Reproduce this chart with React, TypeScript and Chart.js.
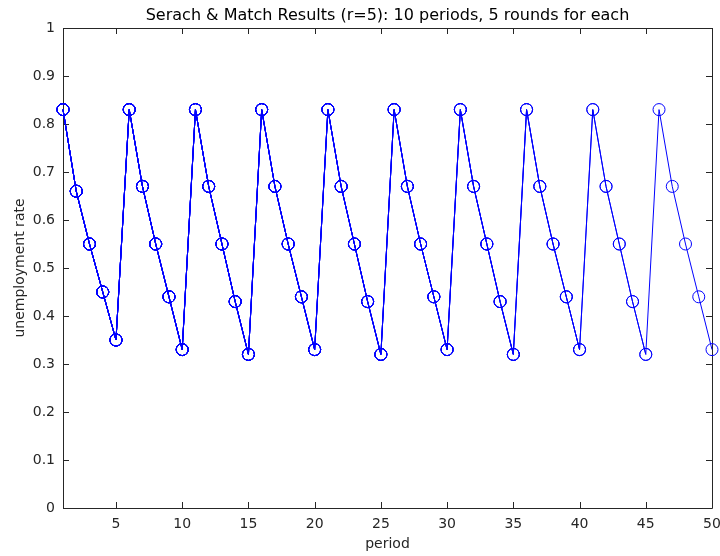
import React, { useEffect, useRef } from "react";
import { Chart, registerables } from "chart.js";

Chart.register(...registerables);

// ---- data ----
const periods = [
  1, 2, 3, 4, 5, 6, 7, 8, 9, 10,
  11, 12, 13, 14, 15, 16, 17, 18, 19, 20,
  21, 22, 23, 24, 25, 26, 27, 28, 29, 30,
  31, 32, 33, 34, 35, 36, 37, 38, 39, 40,
  41, 42, 43, 44, 45, 46, 47, 48, 49, 50,
];
const unemploymentRate = [
  0.83, 0.66, 0.55, 0.45, 0.35,
  0.83, 0.67, 0.55, 0.44, 0.33,
  0.83, 0.67, 0.55, 0.43, 0.32,
  0.83, 0.67, 0.55, 0.44, 0.33,
  0.83, 0.67, 0.55, 0.43, 0.32,
  0.83, 0.67, 0.55, 0.44, 0.33,
  0.83, 0.67, 0.55, 0.43, 0.32,
  0.83, 0.67, 0.55, 0.44, 0.33,
  0.83, 0.67, 0.55, 0.43, 0.32,
  0.83, 0.67, 0.55, 0.44, 0.33,
];
const roundsPerPeriod = 5;
const periodCount = 10;
const xTickValues = [5, 10, 15, 20, 25, 30, 35, 40, 45, 50];
const yTickValues = [0, 0.1, 0.2, 0.3, 0.4, 0.5, 0.6, 0.7, 0.8, 0.9, 1];
const yTickLabels = ["0", "0.1", "0.2", "0.3", "0.4", "0.5", "0.6", "0.7", "0.8", "0.9", "1"];
const chartTitle = "Serach & Match Results (r=5): 10 periods, 5 rounds for each";
const xLabel = "period";
const yLabel = "unemployment rate";

const AXIS_COLOR = "#262626";
const LINE_COLOR = "#0000ff";
const FONT = "'DejaVu Sans', 'Noto Sans', sans-serif";

const boxPlugin = {
  id: "matlabBox",
  beforeDatasetsDraw(chart: any) {
    const { ctx, chartArea } = chart;
    const { left, right, top, bottom } = chartArea;
    const xs = chart.scales.x;
    const ys = chart.scales.y;
    const tl = 6;
    ctx.save();
    ctx.strokeStyle = AXIS_COLOR;
    ctx.lineWidth = 1;
    ctx.beginPath();
    ctx.rect(Math.round(left) + 0.5, Math.round(top) + 0.5, Math.round(right - left), Math.round(bottom - top));
    for (const v of xTickValues) {
      const px = Math.round(xs.getPixelForValue(v)) + 0.5;
      ctx.moveTo(px, bottom);
      ctx.lineTo(px, bottom - tl);
      ctx.moveTo(px, top);
      ctx.lineTo(px, top + tl);
    }
    for (const v of yTickValues) {
      const py = Math.round(ys.getPixelForValue(v)) + 0.5;
      ctx.moveTo(left, py);
      ctx.lineTo(left + tl, py);
      ctx.moveTo(right, py);
      ctx.lineTo(right - tl, py);
    }
    ctx.stroke();
    ctx.restore();
  },
};

export default function App() {
  const canvasRef = useRef<HTMLCanvasElement | null>(null);

  useEffect(() => {
    const canvas = canvasRef.current;
    if (!canvas) return;

    // The simulation was plotted cumulatively: one overlaid line per period.
    const datasets = [];
    for (let k = 1; k <= periodCount; k++) {
      const n = k * roundsPerPeriod;
      datasets.push({
        label: "period " + k,
        data: periods.slice(0, n).map((p, i) => ({ x: p, y: unemploymentRate[i] })),
        borderColor: LINE_COLOR,
        backgroundColor: "rgba(0,0,0,0)",
        borderWidth: 1,
        pointRadius: 6,
        pointHoverRadius: 6,
        pointBorderWidth: 1,
        pointBorderColor: LINE_COLOR,
        pointBackgroundColor: "rgba(0,0,0,0)",
        pointStyle: "circle",
        tension: 0,
        fill: false,
        clip: false,
      });
    }

    const chart = new Chart(canvas, {
      type: "line",
      data: { datasets },
      plugins: [boxPlugin],
      options: {
        animation: false,
        responsive: false,
        devicePixelRatio: 1,
        layout: { padding: { left: 0, right: 0, top: 0, bottom: 0 } },
        plugins: {
          legend: { display: false },
          tooltip: { enabled: false },
          title: {
            display: true,
            text: chartTitle,
            fullSize: false,
            color: "#000000",
            font: { family: FONT, size: 16, weight: "normal" },
            padding: { top: 5.9, bottom: 2.9 },
          },
        },
        scales: {
          x: {
            type: "linear",
            min: 1,
            max: 50,
            offset: false,
            grid: { display: false, drawTicks: false },
            border: { display: false },
            afterBuildTicks(scale: any) {
              scale.ticks = xTickValues.map((v) => ({ value: v }));
            },
            afterFit(scale: any) {
              scale.height = 48;
              scale.paddingRight = 8;
              scale.paddingLeft = 0;
            },
            ticks: {
              color: AXIS_COLOR,
              font: { family: FONT, size: 14 },
              padding: 8,
              maxRotation: 0,
              autoSkip: false,
              callback: (v: any) => String(v),
            },
            title: {
              display: true,
              text: xLabel,
              color: AXIS_COLOR,
              font: { family: FONT, size: 14 },
              padding: { top: 0, bottom: 3 },
            },
          },
          y: {
            type: "linear",
            min: 0,
            max: 1,
            grid: { display: false, drawTicks: false },
            border: { display: false },
            afterBuildTicks(scale: any) {
              scale.ticks = yTickValues.map((v) => ({ value: v }));
            },
            afterFit(scale: any) {
              scale.width = 63;
            },
            ticks: {
              color: AXIS_COLOR,
              font: { family: FONT, size: 14 },
              padding: 8,
              autoSkip: false,
              callback: (_v: any, i: number) => yTickLabels[i],
            },
            title: {
              display: true,
              text: yLabel,
              color: AXIS_COLOR,
              font: { family: FONT, size: 14 },
              padding: { top: 12, bottom: 0 },
            },
          },
        },
      },
    } as any);

    return () => chart.destroy();
  }, []);

  return (
    <div style={{ position: "absolute", left: 0, top: 0, width: 720, height: 556, background: "#ffffff" }}>
      <canvas ref={canvasRef} width={720} height={556} />
    </div>
  );
}
